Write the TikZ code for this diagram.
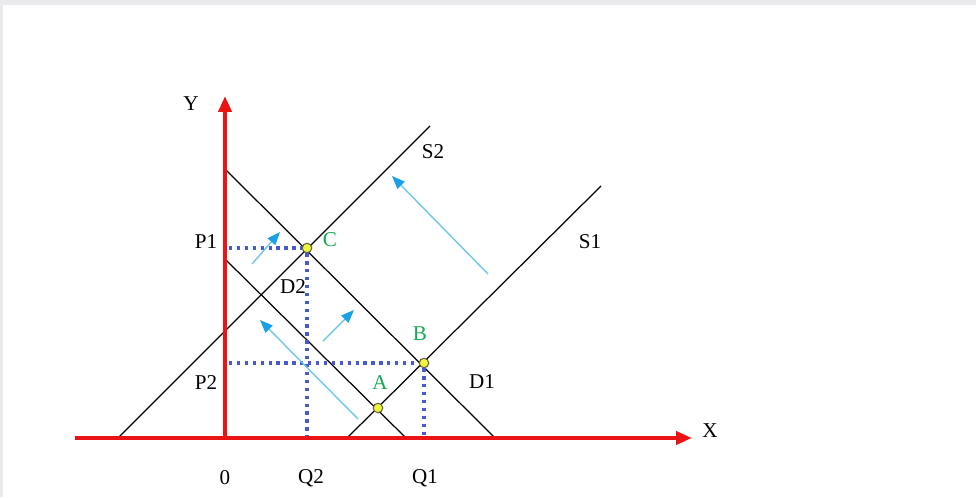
\documentclass[tikz,border=0pt]{standalone}
\usepackage{fontspec}
\setmainfont{Liberation Serif}
\usetikzlibrary{arrows.meta}
\definecolor{axisred}{RGB}{235,20,20}
\definecolor{dotblue}{RGB}{70,90,205}
\definecolor{shiftcyan}{RGB}{110,200,230}
\definecolor{tipblue}{RGB}{25,160,230}
\definecolor{ptgreen}{RGB}{20,170,80}
\definecolor{ptyellow}{RGB}{240,245,60}
\definecolor{frame}{RGB}{234,234,237}
\tikzset{
  axis/.style={axisred, line width=2.4pt, -{Triangle[length=0.32cm,width=0.26cm]}},
  curve/.style={black, line width=0.7pt},
  guide/.style={dotblue, line width=2.1pt, dash pattern=on 1.9pt off 2.6pt},
  shiftarrow/.style={shiftcyan, line width=0.8pt, -{Triangle[length=0.26cm,width=0.2cm,color=tipblue]}},
  eq/.style={circle, draw=black!70!yellow, fill=ptyellow, line width=0.6pt, inner sep=0pt, minimum size=0.19cm},
  lbl/.style={font=\fontsize{12}{14}\selectfont},
  eqlbl/.style={lbl, text=ptgreen}
}
\begin{document}
\begin{tikzpicture}[x=0.02cm, y=-0.02cm]
    \fill[frame] (0,0) rectangle (976,497);
    \fill[white] (3,5) rectangle (976,497);
    \useasboundingbox (0,0) rectangle (976,497);
    % axes
    \coordinate (xs) at (75,438);
    \coordinate (xe) at (692,438);
    \coordinate (o) at (225,438);
    \coordinate (ye) at (225,96);
    % demand and supply end points
    \coordinate (d1a) at (226,170);
    \coordinate (d1b) at (495,438);
    \coordinate (d2a) at (226,260);
    \coordinate (d2b) at (406,438);
    \coordinate (s2a) at (118,438);
    \coordinate (s2b) at (430,126);
    \coordinate (s1a) at (347,438);
    \coordinate (s1b) at (601,186);
    \draw[curve] (d1a) -- (d1b);
    \draw[curve] (d2a) -- (d2b);
    \draw[curve] (s2a) -- (s2b);
    \draw[curve] (s1a) -- (s1b);
    % equilibria
    \coordinate (p1) at (229,248);
    \coordinate (p2) at (229,363);
    \coordinate (q2) at (307,436);
    \coordinate (q1) at (424,436);
    \node[eq] (C) at (307,248) {};
    \node[eq] (B) at (424,363) {};
    \node[eq] (A) at (378,408) {};
    \draw[guide] (p1) -- (C.west);
    \draw[guide] (C.south) -- (q2);
    \draw[guide] (p2) -- (B.west);
    \draw[guide] (B.south) -- (q1);
    \draw[axis] (xs) -- (xe);
    \draw[axis] (o) -- (ye);
    % shifts
    \coordinate (m1a) at (252,264);
    \coordinate (m1b) at (280,232);
    \coordinate (m2a) at (323,341);
    \coordinate (m2b) at (354,310);
    \coordinate (m3a) at (488,274);
    \coordinate (m3b) at (392,176);
    \coordinate (m4a) at (358,419);
    \coordinate (m4b) at (260,320);
    \draw[shiftarrow] (m1a) -- (m1b);
    \draw[shiftarrow] (m2a) -- (m2b);
    \draw[shiftarrow] (m3a) -- (m3b);
    \draw[shiftarrow] (m4a) -- (m4b);
    % labels
    \node[lbl] (ylab) at (191,104) {Y};
    \node[lbl] (xlab) at (710,431) {X};
    \node[lbl] (P1) at (206,242) {P1};
    \node[lbl] (P2) at (206,383) {P2};
    \node[lbl] (zero) at (225,478) {0};
    \node[lbl] (Q2) at (311,478) {Q2};
    \node[lbl] (Q1) at (425,478) {Q1};
    \node[lbl] (D2) at (293,287) {D2};
    \node[lbl] (D1) at (482,382) {D1};
    \node[lbl] (S2) at (433,152) {S2};
    \node[lbl] (S1) at (590,242) {S1};
    \node[eqlbl] (Clab) at (330,240) {C};
    \node[eqlbl] (Blab) at (420,334) {B};
    \node[eqlbl] (Alab) at (380,383) {A};
\end{tikzpicture}
\end{document}
